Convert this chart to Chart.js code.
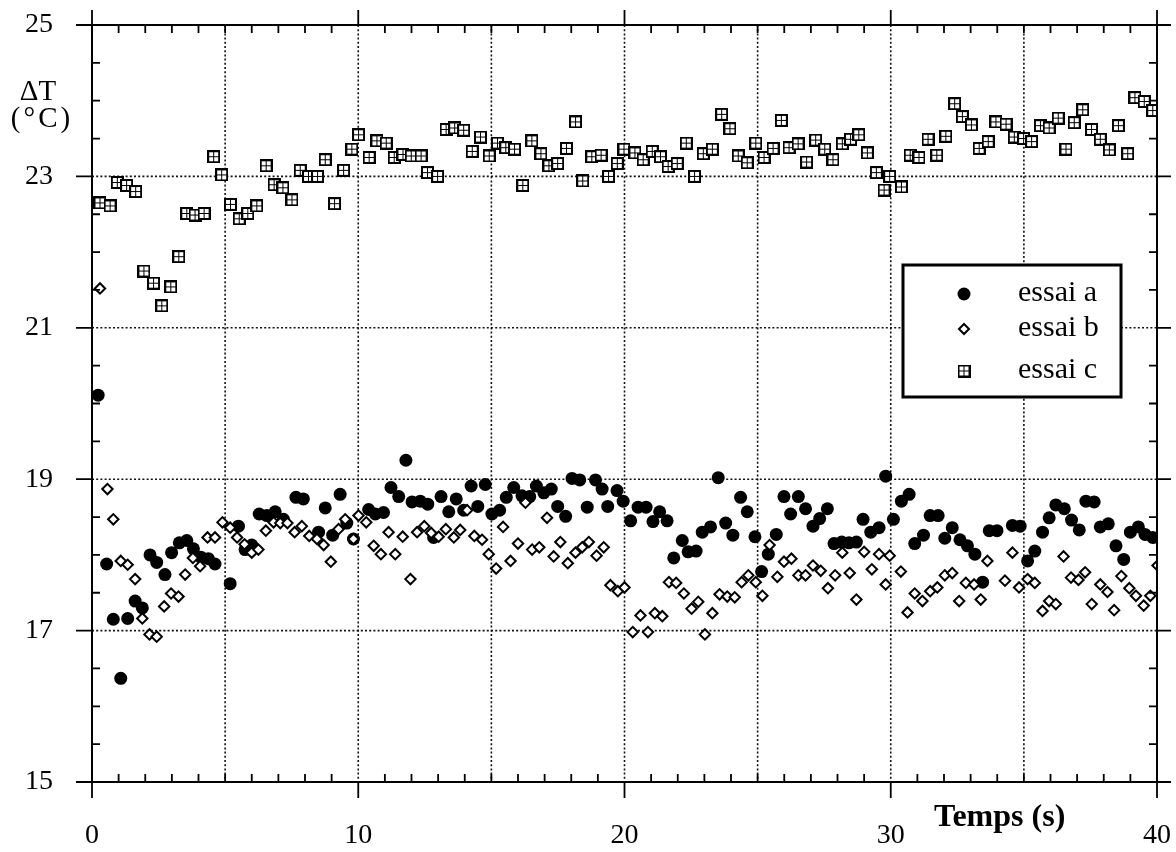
<!DOCTYPE html>
<html>
<head>
<meta charset="utf-8">
<script src="https://cdn.jsdelivr.net/npm/chart.js@4.4.1/dist/chart.umd.min.js"></script>
<style>
html,body{margin:0;padding:0;background:#fff;}
#wrap{width:1176px;height:852px;position:relative;}
</style>
</head>
<body>
<div id="wrap"><canvas id="c" width="1176" height="852"></canvas></div>
<script>
// ---- tick / grid values ----
const xTicks = [0, 10, 20, 30, 40];
const yTicks = [15, 17, 19, 21, 23, 25];
const xGrid = [5, 10, 15, 20, 25, 30, 35];
const yGrid = [17, 19, 21, 23];
const seriesLabels = ['essai a', 'essai b', 'essai c'];
const xTitle = 'Temps (s)';
const yTitle1 = 'ΔT';
const yTitle2 = '(°C)';

// ---- essai a ----
const tempsA = [0.23,0.55,0.80,1.08,1.34,1.62,1.89,2.18,2.43,2.74,2.99,3.28,3.56,3.81,4.09,4.37,4.62,5.19,5.50,5.75,6.00,6.28,6.57,6.88,7.19,7.66,7.94,8.51,8.76,9.04,9.32,9.57,9.82,10.39,10.64,10.95,11.23,11.52,11.79,12.02,12.33,12.61,12.83,13.11,13.40,13.68,13.96,14.24,14.49,14.77,15.02,15.31,15.56,15.84,16.15,16.44,16.69,16.97,17.25,17.49,17.79,18.03,18.32,18.60,18.91,19.16,19.37,19.72,19.95,20.23,20.51,20.81,21.07,21.32,21.60,21.85,22.17,22.39,22.69,22.92,23.23,23.52,23.80,24.07,24.36,24.61,24.90,25.15,25.40,25.70,25.99,26.24,26.53,26.80,27.08,27.33,27.62,27.87,28.16,28.43,28.71,28.96,29.25,29.56,29.81,30.10,30.40,30.69,30.90,31.23,31.48,31.78,32.03,32.31,32.60,32.88,33.16,33.45,33.70,33.99,34.57,34.86,35.14,35.41,35.70,35.95,36.20,36.52,36.79,37.08,37.33,37.64,37.87,38.17,38.46,38.75,39.00,39.30,39.55,39.84];
const deltaA = [20.11,17.88,17.15,16.37,17.16,17.39,17.30,18.00,17.90,17.74,18.03,18.16,18.19,18.08,17.97,17.95,17.88,17.62,18.38,18.07,18.13,18.54,18.52,18.57,18.47,18.76,18.74,18.30,18.62,18.26,18.80,18.42,18.21,18.60,18.54,18.56,18.89,18.77,19.25,18.70,18.71,18.67,18.23,18.77,18.57,18.74,18.59,18.91,18.64,18.93,18.54,18.59,18.76,18.89,18.78,18.77,18.91,18.82,18.87,18.64,18.51,19.01,18.99,18.63,18.99,18.87,18.64,18.85,18.71,18.45,18.63,18.63,18.44,18.57,18.45,17.96,18.19,18.04,18.05,18.30,18.37,19.02,18.42,18.26,18.76,18.57,18.24,17.78,18.01,18.27,18.77,18.54,18.77,18.61,18.38,18.48,18.61,18.15,18.17,18.16,18.17,18.47,18.30,18.36,19.04,18.47,18.71,18.80,18.15,18.26,18.52,18.52,18.22,18.36,18.20,18.12,18.01,17.64,18.32,18.32,18.39,18.38,17.92,18.05,18.30,18.49,18.66,18.61,18.46,18.33,18.71,18.70,18.37,18.41,18.12,17.94,18.30,18.37,18.27,18.23];

// ---- essai b ----
const tempsB = [0.30,0.58,0.80,1.08,1.34,1.62,1.89,2.16,2.43,2.71,2.97,3.25,3.50,3.79,4.06,4.34,4.62,4.90,5.19,5.45,5.73,6.00,6.25,6.53,6.82,7.07,7.34,7.61,7.88,8.16,8.45,8.70,8.97,9.26,9.51,9.82,10.01,10.30,10.58,10.85,11.14,11.39,11.67,11.96,12.21,12.48,12.74,13.02,13.29,13.59,13.83,14.09,14.36,14.65,14.90,15.18,15.44,15.72,16.00,16.28,16.53,16.80,17.09,17.34,17.59,17.87,18.16,18.41,18.66,18.95,19.22,19.47,19.75,20.00,20.31,20.60,20.88,21.14,21.42,21.67,21.94,22.23,22.52,22.77,23.02,23.30,23.57,23.86,24.14,24.40,24.65,24.93,25.18,25.45,25.74,25.99,26.27,26.53,26.80,27.08,27.37,27.64,27.91,28.18,28.46,28.71,29.00,29.29,29.56,29.81,29.96,30.38,30.63,30.90,31.19,31.48,31.75,32.03,32.31,32.57,32.82,33.13,33.38,33.63,34.29,34.57,34.82,35.14,35.41,35.70,35.95,36.20,36.49,36.77,37.05,37.30,37.55,37.87,38.14,38.39,38.66,38.96,39.21,39.50,39.75,40.02];
const deltaB = [21.52,18.87,18.47,17.92,17.87,17.68,17.16,16.95,16.92,17.32,17.49,17.45,17.74,17.96,17.85,18.23,18.23,18.43,18.36,18.23,18.14,18.03,18.07,18.32,18.43,18.42,18.42,18.30,18.38,18.25,18.21,18.13,17.91,18.34,18.47,18.21,18.52,18.43,18.12,18.01,18.30,18.01,18.24,17.68,18.30,18.38,18.29,18.24,18.34,18.23,18.33,18.59,18.25,18.20,18.01,17.82,18.37,17.92,18.15,18.69,18.07,18.10,18.49,17.98,18.17,17.89,18.03,18.10,18.17,17.99,18.10,17.60,17.52,17.57,16.98,17.20,16.98,17.23,17.19,17.64,17.63,17.49,17.29,17.38,16.95,17.23,17.48,17.45,17.44,17.64,17.73,17.64,17.46,18.13,17.71,17.91,17.95,17.73,17.73,17.86,17.79,17.56,17.73,18.03,17.76,17.41,18.04,17.81,18.01,17.61,17.99,17.78,17.24,17.49,17.39,17.52,17.57,17.73,17.76,17.39,17.63,17.61,17.41,17.92,17.66,18.03,17.57,17.68,17.63,17.26,17.39,17.35,17.98,17.70,17.67,17.77,17.35,17.61,17.51,17.27,17.72,17.56,17.46,17.33,17.46,17.86];

// ---- essai c ----
const tempsC = [0.30,0.68,0.95,1.30,1.64,1.95,2.31,2.62,2.96,3.26,3.56,3.87,4.21,4.57,4.87,5.20,5.53,5.85,6.19,6.54,6.84,7.17,7.51,7.82,8.13,8.47,8.76,9.11,9.45,9.76,10.01,10.41,10.70,11.05,11.35,11.68,11.99,12.36,12.60,12.98,13.30,13.62,13.96,14.28,14.59,14.92,15.23,15.54,15.87,16.18,16.52,16.86,17.16,17.49,17.82,18.16,18.43,18.77,19.12,19.40,19.73,19.98,20.39,20.70,21.04,21.35,21.64,21.98,22.32,22.63,22.96,23.30,23.65,23.96,24.27,24.61,24.93,25.24,25.58,25.89,26.18,26.52,26.84,27.18,27.52,27.83,28.18,28.49,28.80,29.12,29.46,29.75,29.96,30.40,30.73,31.06,31.40,31.73,32.07,32.40,32.69,33.03,33.32,33.66,33.95,34.33,34.64,34.99,35.29,35.62,35.95,36.29,36.58,36.89,37.21,37.54,37.87,38.21,38.55,38.90,39.17,39.52,39.84];
const deltaC = [22.65,22.61,22.92,22.88,22.80,21.75,21.59,21.29,21.54,21.94,22.51,22.49,22.51,23.26,23.02,22.63,22.44,22.51,22.61,23.14,22.89,22.85,22.69,23.08,23.00,23.00,23.22,22.64,23.08,23.36,23.55,23.25,23.47,23.44,23.25,23.29,23.27,23.27,23.05,23.00,23.62,23.64,23.61,23.33,23.52,23.27,23.44,23.38,23.36,22.88,23.47,23.30,23.14,23.17,23.37,23.72,22.94,23.26,23.28,23.00,23.17,23.36,23.31,23.22,23.33,23.26,23.13,23.17,23.44,23.00,23.30,23.36,23.82,23.63,23.27,23.18,23.44,23.25,23.37,23.74,23.38,23.43,23.19,23.48,23.36,23.22,23.43,23.49,23.55,23.31,23.05,22.82,23.00,22.86,23.28,23.25,23.49,23.28,23.53,23.96,23.79,23.68,23.37,23.46,23.72,23.69,23.52,23.50,23.46,23.67,23.64,23.77,23.36,23.71,23.88,23.62,23.49,23.35,23.67,23.30,24.04,23.99,23.87];

function pairs(xs, ys) { return xs.map((v, i) => ({x: v, y: ys[i]})); }

// grid-square marker for essai c
function gridSquare() {
  const c = document.createElement('canvas');
  c.width = 13; c.height = 13;
  const g = c.getContext('2d');
  g.fillStyle = '#000';
  g.fillRect(0, 0, 13, 13);
  g.fillStyle = '#fff';
  [[2,2],[7,2],[2,7],[7,7]].forEach(([a, b]) => g.fillRect(a, b, 4, 4));
  return c;
}
const squareMarker = gridSquare();

const SERIF = "'Liberation Serif', 'Times New Roman', serif";

const framePlugin = {
  id: 'framePlugin',
  beforeDatasetsDraw(chart) {
    const {ctx, scales: {x, y}} = chart;
    const L = x.getPixelForValue(x.min), R = x.getPixelForValue(x.max);
    const T = y.getPixelForValue(y.max), B = y.getPixelForValue(y.min);
    ctx.save();
    ctx.strokeStyle = '#111';
    ctx.lineWidth = 1.6;
    ctx.setLineDash([2, 2.2]);
    xGrid.forEach(v => {
      const p = x.getPixelForValue(v);
      ctx.beginPath(); ctx.moveTo(p, T); ctx.lineTo(p, B); ctx.stroke();
    });
    yGrid.forEach(v => {
      const p = y.getPixelForValue(v);
      ctx.beginPath(); ctx.moveTo(L, p); ctx.lineTo(R, p); ctx.stroke();
    });
    ctx.restore();
  },
  afterDatasetsDraw(chart) {
    const {ctx, scales: {x, y}} = chart;
    const L = x.getPixelForValue(x.min), R = x.getPixelForValue(x.max);
    const T = y.getPixelForValue(y.max), B = y.getPixelForValue(y.min);
    ctx.save();
    ctx.strokeStyle = '#000';
    ctx.lineWidth = 2;
    ctx.setLineDash([]);
    ctx.strokeRect(L, T, R - L, B - T);
    ctx.lineWidth = 1.8;
    // x ticks
    for (let v = x.min; v <= x.max + 1e-9; v += 1) {
      const p = x.getPixelForValue(v);
      ctx.beginPath();
      if (xTicks.includes(v)) {
        ctx.moveTo(p, B); ctx.lineTo(p, B + 16);
        ctx.moveTo(p, T); ctx.lineTo(p, T - 15);
      } else {
        ctx.moveTo(p, B); ctx.lineTo(p, B - 8);
        ctx.moveTo(p, T); ctx.lineTo(p, T + 8);
      }
      ctx.stroke();
    }
    // y ticks
    for (let v = y.min; v <= y.max + 1e-9; v += 0.5) {
      const p = y.getPixelForValue(v);
      ctx.beginPath();
      if (yTicks.includes(v)) {
        ctx.moveTo(L, p); ctx.lineTo(L - 16, p);
        ctx.moveTo(R, p); ctx.lineTo(R + 14, p);
      } else {
        ctx.moveTo(L, p); ctx.lineTo(L + 8, p);
        ctx.moveTo(R, p); ctx.lineTo(R - 8, p);
      }
      ctx.stroke();
    }
    ctx.restore();
  },
  afterDraw(chart) {
    const {ctx} = chart;
    ctx.save();
    ctx.fillStyle = '#000';
    ctx.textBaseline = 'alphabetic';
    // axis titles
    ctx.font = `29px ${SERIF}`;
    ctx.textAlign = 'center';
    ctx.fillText(yTitle1, 38, 100);
    ctx.letterSpacing = '3px';
    ctx.fillText(yTitle2, 42, 127);
    ctx.letterSpacing = '0px';
    ctx.font = `bold 32px ${SERIF}`;
    ctx.textAlign = 'left';
    ctx.fillText(xTitle, 934, 826);
    // legend
    const bx = 903, by = 265, bw = 218, bh = 132;
    ctx.fillStyle = '#fff';
    ctx.fillRect(bx, by, bw, bh);
    ctx.strokeStyle = '#000';
    ctx.lineWidth = 3;
    ctx.strokeRect(bx, by, bw, bh);
    const rows = [294, 329, 371];
    const base = [301, 336, 378];
    const mx = 964;
    chart.data.datasets.forEach((ds, i) => {
      const cy = rows[i];
      ctx.fillStyle = '#000';
      ctx.strokeStyle = '#000';
      if (i === 0) {
        ctx.beginPath(); ctx.arc(mx, cy, 6.5, 0, Math.PI * 2); ctx.fill();
      } else if (i === 1) {
        ctx.lineWidth = 2;
        ctx.beginPath();
        ctx.moveTo(mx - 5, cy); ctx.lineTo(mx, cy - 5); ctx.lineTo(mx + 5, cy); ctx.lineTo(mx, cy + 5);
        ctx.closePath();
        ctx.fillStyle = '#fff'; ctx.fill(); ctx.stroke();
      } else {
        ctx.drawImage(squareMarker, mx - 6.5, cy - 6.5);
      }
      ctx.fillStyle = '#000';
      ctx.font = `30px ${SERIF}`;
      ctx.textAlign = 'left';
      ctx.fillText(ds.label, 1018, base[i]);
    });
    ctx.restore();
  }
};

new Chart(document.getElementById('c'), {
  type: 'scatter',
  data: {
    datasets: [
      {
        label: seriesLabels[0],
        data: pairs(tempsA, deltaA),
        pointStyle: 'circle',
        pointRadius: 6.5,
        pointBackgroundColor: '#000',
        pointBorderColor: '#000',
        pointBorderWidth: 0,
        order: 1
      },
      {
        label: seriesLabels[1],
        data: pairs(tempsB, deltaB),
        pointStyle: 'rectRot',
        pointRadius: 5.2,
        pointBackgroundColor: '#fff',
        pointBorderColor: '#000',
        pointBorderWidth: 2,
        order: 0
      },
      {
        label: seriesLabels[2],
        data: pairs(tempsC, deltaC),
        pointStyle: squareMarker,
        pointRadius: 6.5,
        order: 2
      }
    ]
  },
  options: {
    responsive: false,
    animation: false,
    devicePixelRatio: 1,
    layout: { padding: { left: 0, top: 25, right: 19, bottom: 0 } },
    plugins: { legend: { display: false }, tooltip: { enabled: false } },
    scales: {
      x: {
        type: 'linear',
        min: 0, max: 40,
        afterBuildTicks: s => { s.ticks = xTicks.map(v => ({value: v})); },
        afterFit: s => { s.height = 70; s.paddingLeft = 0; s.paddingRight = 0; },
        grid: { display: false, drawTicks: false },
        border: { display: false },
        ticks: { color: '#000', font: { family: SERIF, size: 28 }, padding: 37, maxRotation: 0, autoSkip: false }
      },
      y: {
        type: 'linear',
        min: 15, max: 25,
        afterBuildTicks: s => { s.ticks = yTicks.map(v => ({value: v})); },
        afterFit: s => { s.width = 92; s.paddingTop = 0; s.paddingBottom = 0; },
        grid: { display: false, drawTicks: false },
        border: { display: false },
        ticks: { color: '#000', font: { family: SERIF, size: 28 }, padding: 39, autoSkip: false }
      }
    }
  },
  plugins: [framePlugin]
});
</script>
</body>
</html>
